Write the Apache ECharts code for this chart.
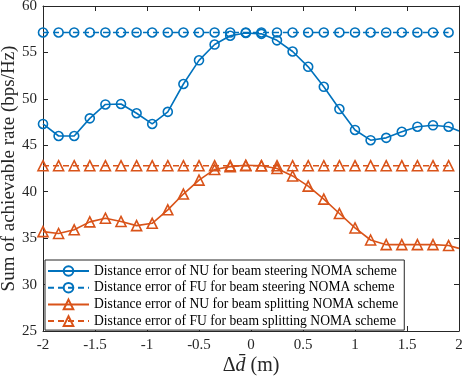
<!DOCTYPE html>
<html><head><meta charset="utf-8">
<script src="https://cdn.jsdelivr.net/npm/echarts@6/dist/echarts.min.js"></script>
<style>html,body{margin:0;padding:0;background:#fff}#c{width:464px;height:378px}</style>
</head><body><div id="c"></div>
<script>
const xMarkers = [-2,-1.85,-1.7,-1.55,-1.4,-1.25,-1.1,-0.95,-0.8,-0.65,-0.5,-0.35,-0.2,-0.05,0.1,0.25,0.4,0.55,0.7,0.85,1.0,1.15,1.3,1.45,1.6,1.75,1.9];
const xEnd = 2;
const nuSteering = [47.3,46.0,46.0,47.9,49.4,49.45,48.45,47.3,48.6,51.6,54.15,55.85,56.8,57.1,57.0,56.3,55.1,53.45,51.3,48.9,46.65,45.55,45.8,46.45,47.0,47.15,47.0];
const nuSteeringEnd = 46.55;
const fuSteering = 57.15;
const nuSplitting = [35.7,35.5,35.9,36.75,37.15,36.8,36.35,36.6,38.05,39.75,41.25,42.4,42.7,42.85,42.8,42.5,41.7,40.6,39.2,37.65,36.1,34.8,34.3,34.3,34.3,34.3,34.2];
const nuSplittingEnd = 33.9;
const fuSplitting = 42.8;
const legendNames = [
  'Distance error of NU for beam steering NOMA scheme',
  'Distance error of FU for beam steering NOMA scheme',
  'Distance error of NU for beam splitting NOMA scheme',
  'Distance error of FU for beam splitting NOMA scheme'
];
const blue = '#0072BD', orange = '#D95319', ink = '#262626';
const font = 'Liberation Serif';

function pts(vals, endVal){
  const d = xMarkers.map((x,i)=>[x, vals[i]]);
  if (endVal !== undefined) d.push({value:[xEnd,endVal], symbol:'none'});
  return d;
}
function flat(v){ return xMarkers.map(x=>[x,v]); }

function mk(name, data, color, symbol, size, dashed){
  return {
    name, type:'line', data, symbol, symbolSize:size, showSymbol:true,
    xAxisIndex:0, yAxisIndex:0,
    lineStyle:{color, width:1.6, type: dashed ? [6,4] : 'solid'},
    itemStyle:{color:'transparent', borderColor:color, borderWidth:1.6},
    emphasis:{disabled:true}, animation:false, z: 3
  };
}

const chart = echarts.init(document.getElementById('c'));
function axisCommon(){
  return {
    axisLine:{show:true, onZero:false, lineStyle:{color:ink, width:1}},
    axisTick:{show:true, inside:true, length:5, lineStyle:{color:ink}},
    splitLine:{show:false},
    nameMoveOverlap:false
  };
}
chart.setOption({
  animation:false,
  grid:{left:43, right:5, top:6, bottom:47, containLabel:false, outerBoundsMode:'none'},
  xAxis:[
    Object.assign({type:'value', min:-2, max:2, interval:0.5, position:'bottom',
      axisLabel:{color:ink, fontFamily:font, fontSize:15, margin:7},
      name:'{d|Δ}{i|d̄}{d| (m)}', nameLocation:'middle', nameGap:25,
      nameTextStyle:{rich:{d:{fontFamily:font, fontSize:20, color:ink}, i:{fontFamily:font, fontSize:20, fontStyle:'italic', color:ink}}}
    }, axisCommon()),
    Object.assign({type:'value', min:-2, max:2, interval:0.5, position:'top', axisLabel:{show:false}}, axisCommon())
  ],
  yAxis:[
    Object.assign({type:'value', min:25, max:60, interval:5, position:'left',
      axisLabel:{color:ink, fontFamily:font, fontSize:15, margin:6},
      name:'Sum of achievable rate (bps/Hz)', nameLocation:'middle', nameGap:24,
      nameTextStyle:{fontFamily:font, fontSize:19, color:ink}
    }, axisCommon()),
    Object.assign({type:'value', min:25, max:60, interval:5, position:'right', axisLabel:{show:false}}, axisCommon())
  ],
  legend:{
    orient:'vertical', left:45, top:260, width:360,
    data: legendNames,
    itemWidth:41, itemHeight:12, itemGap:2.7,
    padding:[4,6,2,2],
    backgroundColor:'#fff', borderColor:ink, borderWidth:1,
    textStyle:{fontFamily:font, fontSize:13.6, lineHeight:14, color:'#000', padding:[0,0,0,0]},
    selectedMode:false, z:10
  },
  series:[
    mk(legendNames[0], pts(nuSteering, nuSteeringEnd), blue, 'circle', 9, false),
    mk(legendNames[1], flat(fuSteering), blue, 'circle', 9, true),
    mk(legendNames[2], pts(nuSplitting, nuSplittingEnd), orange, 'triangle', 10, false),
    mk(legendNames[3], flat(fuSplitting), orange, 'triangle', 10, true)
  ]
});
</script></body></html>
